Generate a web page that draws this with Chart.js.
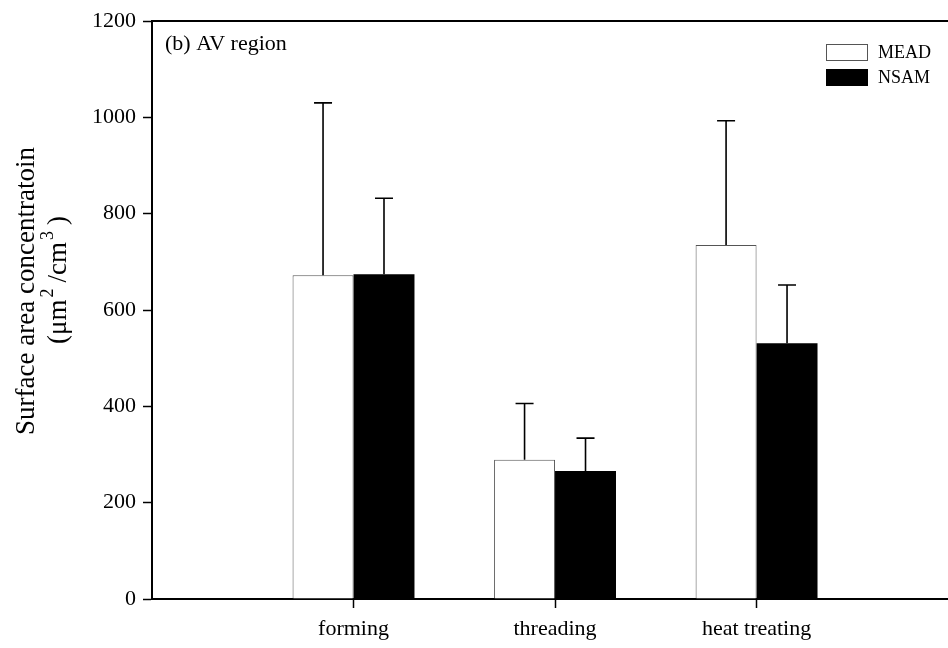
<!DOCTYPE html>
<html>
<head>
<meta charset="utf-8">
<script src="https://cdn.jsdelivr.net/npm/chart.js@4.4.0/dist/chart.umd.min.js"></script>
<style>
  html, body { margin: 0; padding: 0; background: #fff; }
  #wrap { width: 948px; height: 648px; }
</style>
</head>
<body>
<div id="wrap"><canvas id="chart" width="948" height="648"></canvas></div>
<script>
// Data
const categories = ['forming', 'threading', 'heat treating'];
const meadValues = [672, 289, 735];
const meadErrors = [358, 117, 258];
const nsamValues = [674, 266, 531];
const nsamErrors = [158, 68, 121];
const yTicks = [0, 200, 400, 600, 800, 1000, 1200];
const panelLabel = '(b) AV region';
const yTitle = ['Surface area concentratoin', '(μm²/cm³)'];

const SERIF = "'Liberation Serif', 'Times New Roman', serif";
Chart.defaults.font.family = SERIF;
Chart.defaults.color = '#000';

// x positions 1..n on a linear axis, so there is empty room left of the first group
const toPoints = vals => vals.map((v, i) => ({ x: i + 1, y: v }));

// Upward error bars with caps
const errorBars = {
    id: 'errorBars',
    afterDatasetsDraw(chart) {
        const ctx = chart.ctx;
        const y = chart.scales.y;
        ctx.save();
        ctx.strokeStyle = '#000';
        ctx.lineWidth = 1.6;
        chart.data.datasets.forEach((ds, di) => {
            const meta = chart.getDatasetMeta(di);
            meta.data.forEach((bar, i) => {
                const top = y.getPixelForValue(ds.data[i].y + ds.errors[i]);
                ctx.beginPath();
                ctx.moveTo(bar.x, bar.y);
                ctx.lineTo(bar.x, top);
                ctx.moveTo(bar.x - 9, top);
                ctx.lineTo(bar.x + 9, top);
                ctx.stroke();
            });
        });
        ctx.restore();
    }
};

// draws a string, turning ² and ³ into raised smaller digits, centred on x=0
function drawWithSup(ctx, str, y, size) {
    const sups = { '²': '2', '³': '3' };
    const parts = [];
    let buf = '';
    for (const ch of str) {
        if (sups[ch]) {
            if (buf) parts.push({ t: buf, sup: false });
            parts.push({ t: sups[ch], sup: true });
            buf = '';
        } else buf += ch;
    }
    if (buf) parts.push({ t: buf, sup: false });

    const supSize = Math.round(size * 0.68);
    let total = 0;
    parts.forEach(p => {
        ctx.font = (p.sup ? supSize : size) + 'px ' + SERIF;
        p.w = ctx.measureText(p.t).width + (p.sup ? 8 : 0);
        total += p.w;
    });
    let x = -total / 2;
    ctx.textAlign = 'left';
    parts.forEach(p => {
        ctx.font = (p.sup ? supSize : size) + 'px ' + SERIF;
        ctx.fillText(p.t, p.sup ? x + 2 : x, p.sup ? y - size * 0.38 : y);
        x += p.w;
    });
}

// Top frame line, panel label, legend and y title
const decorations = {
    id: 'decorations',
    afterDraw(chart) {
        const ctx = chart.ctx;
        const a = chart.chartArea;
        ctx.save();
        ctx.strokeStyle = '#000';
        ctx.lineWidth = 2;
        ctx.beginPath();
        ctx.moveTo(a.left - 1, a.top);
        ctx.lineTo(a.right, a.top);
        ctx.stroke();

        ctx.fillStyle = '#000';
        ctx.font = '22px ' + SERIF;
        ctx.textBaseline = 'middle';
        ctx.textAlign = 'left';
        ctx.fillText(panelLabel, a.left + 13, a.top + 23);

        // legend
        ctx.font = '18px ' + SERIF;
        chart.data.datasets.forEach((ds, i) => {
            const bx = 826, by = 44 + i * 25;
            ctx.fillStyle = ds.backgroundColor;
            ctx.fillRect(bx, by, 42, 17);
            if (ds.borderWidth) {
                ctx.lineWidth = 1;
                ctx.strokeStyle = ds.borderColor;
                ctx.strokeRect(bx + 0.5, by + 0.5, 41, 16);
            }
            ctx.fillStyle = '#000';
            ctx.fillText(ds.label, 878, by + 9);
        });

        // y title
        ctx.translate(27, 291);
        ctx.rotate(-Math.PI / 2);
        ctx.font = '27px ' + SERIF;
        ctx.textAlign = 'center';
        ctx.fillText(yTitle[0], 0, 0);
        ctx.translate(11, 0);
        drawWithSup(ctx, yTitle[1], 32, 27);
        ctx.restore();
    }
};

new Chart(document.getElementById('chart'), {
    type: 'bar',
    data: {
        datasets: [
            {
                label: 'MEAD',
                data: toPoints(meadValues),
                errors: meadErrors,
                backgroundColor: '#ffffff',
                borderColor: '#555555',
                borderWidth: 1
            },
            {
                label: 'NSAM',
                data: toPoints(nsamValues),
                errors: nsamErrors,
                backgroundColor: '#000000',
                borderWidth: 0
            }
        ]
    },
    options: {
        responsive: false,
        animation: false,
        devicePixelRatio: 1,
        categoryPercentage: 0.605,
        barPercentage: 1.0,
        layout: { padding: { top: 21, right: 0, left: 0, bottom: 0 } },
        plugins: {
            legend: { display: false },
            tooltip: { enabled: false }
        },
        scales: {
            x: {
                type: 'linear',
                offset: false,
                min: 0,
                max: 3.95,
                afterBuildTicks: s => { s.ticks = categories.map((c, i) => ({ value: i + 1 })); },
                afterFit: s => { s.height = 49; },
                ticks: {
                    font: { size: 22 },
                    padding: 8,
                    maxRotation: 0,
                    autoSkip: false,
                    callback: v => categories[v - 1]
                },
                grid: {
                    offset: false,
                    drawOnChartArea: false,
                    tickLength: 9,
                    tickColor: '#000',
                    tickWidth: 1.5
                },
                border: { color: '#000', width: 2 }
            },
            y: {
                min: 0,
                max: 1200,
                afterBuildTicks: s => { s.ticks = yTicks.map(v => ({ value: v })); },
                afterFit: s => { s.width = 152; },
                ticks: {
                    font: { size: 22 },
                    padding: 7,
                    callback: v => String(v)
                },
                grid: {
                    drawOnChartArea: false,
                    tickLength: 9,
                    tickColor: '#000',
                    tickWidth: 1.5
                },
                border: { color: '#000', width: 2 }
            }
        }
    },
    plugins: [errorBars, decorations]
});
</script>
</body>
</html>
